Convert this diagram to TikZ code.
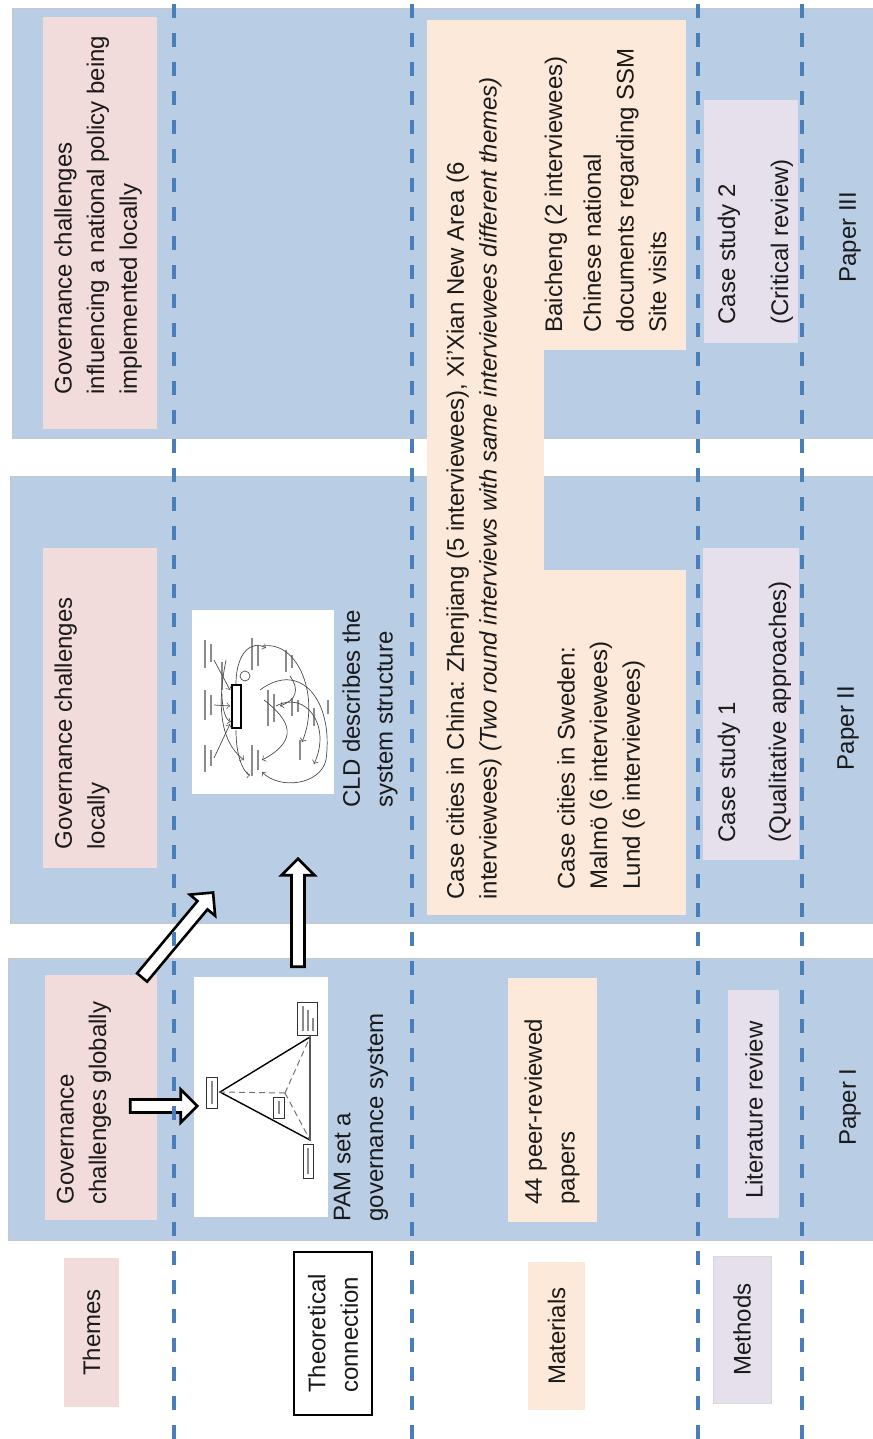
\documentclass[tikz,border=0pt]{standalone}
\usepackage{fontspec}
\setmainfont{Liberation Sans}
\usetikzlibrary{shapes.arrows,calc,fit}
\definecolor{panel}{HTML}{B9CDE5}
\definecolor{pinkbox}{HTML}{F2DCDB}
\definecolor{peach}{HTML}{FDE9D9}
\definecolor{lav}{HTML}{E5E0EC}
\definecolor{dashblue}{HTML}{4A7EBB}
\definecolor{txt}{HTML}{1A1A1A}
\newcommand\hollowarrow[3]{\path let \p1=($(#3)-(#2)$) in node[blockarr, minimum height={veclen(\x1,\y1)}, rotate={atan2(\y1,\x1)}] (#1) at ($(#2)!0.5!(#3)$) {};}
\begin{document}
\begin{tikzpicture}[x=0.5pt,y=-0.5pt,
  boxbase/.style={inner sep=0pt,outer sep=0pt},
  panelbox/.style={boxbase,fill=panel,draw=black!22,line width=0.5pt},
  themebox/.style={boxbase,fill=pinkbox},
  matbox/.style={boxbase,fill=peach},
  methbox/.style={boxbase,fill=lav},
  imgbox/.style={boxbase,fill=white},
  rtext/.style={rotate=90,anchor=west,align=left,font=\fontsize{12}{16.3}\selectfont,text=txt,inner sep=0pt},
  ctext/.style={rotate=90,anchor=center,align=left,font=\fontsize{12}{16.3}\selectfont,text=txt,inner sep=0pt},
  divider/.style={dashblue,line width=2pt,dash pattern=on 7pt off 7.5pt},
  blockarr/.style={single arrow,draw=black,fill=white,line width=1.3pt,inner sep=2.6pt,minimum width=0pt,single arrow head extend=5pt,single arrow head indent=0pt},
  mini/.style={black!70,line width=0.35pt},
  stub/.style={black!45,line width=1pt},
]
\useasboundingbox (0,0) rectangle (872,1439);

% ---------- panels ----------
\node[panelbox,fit={(12,9) (876,438)}] (p3) {};
\node[panelbox,fit={(10,476) (876,923)}] (p2) {};
\node[panelbox,fit={(8,958) (876,1240)}] (p1) {};

% ---------- themes ----------
\node[themebox,fit={(43,17) (157,429)}] (t3) {};
\node[themebox,fit={(43,548) (157,868)}] (t2) {};
\node[themebox,fit={(45,975) (157,1220)}] (t1) {};
\node[rtext] (t3txt) at (98,395) {Governance challenges\\influencing a national policy being\\implemented locally};
\node[rtext] (t2txt) at (82,850) {Governance challenges\\locally};
\node[rtext] (t1txt) at (84,1205) {Governance\\challenges globally};

% ---------- theoretical connection ----------
\node[imgbox,fit={(194,977) (328,1217)}] (pam) {};
\node[imgbox,fit={(192,610) (334,794)}] (cld) {};
\node[rtext] (pamtxt) at (361,1222) {PAM set a\\governance system};
\node[rtext] (cldtxt) at (370,808) {CLD describes the\\system structure};

% PAM mini triangle
\coordinate (pl) at (220,1092);
\coordinate (ptr) at (310,1037);
\coordinate (pbr) at (310,1140);
\coordinate (pc) at (285,1093);
\draw[black,line width=0.7pt] (pl) -- (ptr) -- (pbr) -- cycle;
\draw[black!55,line width=0.5pt,densely dashed] (pc) -- (pl) (pc) -- (ptr) (pc) -- (pbr);
\node[draw=black!80,line width=0.5pt,fill=white,boxbase,fit={(206,1077) (217,1108)}] (pamL) {};
\node[draw=black!80,line width=0.5pt,fill=white,boxbase,fit={(297,1002) (317,1035)}] (pamTR) {};
\node[draw=black!80,line width=0.5pt,fill=white,boxbase,fit={(303,1144) (313,1178)}] (pamBR) {};
\node[draw=black!80,line width=0.5pt,fill=white,boxbase,fit={(273,1097) (284,1118)}] (pamC) {};
\draw[stub] (211.5,1081) -- (211.5,1104);
\draw[stub] (303,1006) -- (303,1031) (308,1010) -- (308,1031) (313,1018) -- (313,1031);
\draw[stub] (308,1148) -- (308,1174);
\draw[stub] (278.5,1101) -- (278.5,1114);

% CLD mini diagram
\draw[stub] (205,640) -- (205,668) (211,644) -- (211,662);
\draw[stub] (205,690) -- (205,720) (211,695) -- (211,715);
\draw[stub] (205,745) -- (205,772) (211,750) -- (211,766);
\draw[stub] (222,662) -- (222,690);
\draw[stub] (252,638) -- (252,670) (258,645) -- (258,666);
\draw[stub] (252,745) -- (252,776) (258,750) -- (258,770);
\draw[stub] (268,690) -- (268,726) (274,694) -- (274,722);
\draw[stub] (286,650) -- (286,672) (292,655) -- (292,668);
\draw[stub] (292,698) -- (292,716) (298,700) -- (298,712);
\draw[stub] (300,740) -- (300,760);
\draw[stub] (314,708) -- (314,726);
\draw[stub] (328,700) -- (328,714);
\draw[black,line width=0.7pt] (232,685) rectangle (241,728);
\draw[mini] (245,676) circle (5);
\draw[mini,->] (236,684) .. controls (236,652) and (252,640) .. (266,648);
\draw[mini,->] (262,646) .. controls (300,640) and (320,700) .. (302,742);
\draw[mini,->] (276,706) .. controls (305,690) and (332,725) .. (314,764);
\draw[mini,->] (260,690) .. controls (300,660) and (334,700) .. (326,760) .. controls (320,785) and (280,790) .. (262,772);
\draw[mini,->] (264,700) .. controls (290,720) and (300,740) .. (262,760);
\draw[mini,->] (236,730) .. controls (236,765) and (248,775) .. (250,775);
\draw[mini,->] (222,694) .. controls (222,710) and (226,720) .. (231,722);
\draw[mini,->] (214,660) -- (230,690);
\draw[mini,->] (214,705) -- (230,706);
\draw[mini,->] (214,758) -- (230,724);
\draw[mini,->] (226,660) .. controls (218,700) and (218,740) .. (244,760);
\draw[mini,->] (290,676) .. controls (300,690) and (296,700) .. (280,706);

% ---------- materials ----------
\node[matbox,fit={(427,20) (544,915)}] (mchina) {};
\node[matbox,fit={(543,20) (686,350)}] (mbai) {};
\node[matbox,fit={(543,570) (686,915)}] (mswe) {};
\node[matbox,fit={(508,978) (597,1222)}] (m1) {};
\node[rtext] (chinatxt) at (474,900) {Case cities in China: Zhenjiang (5 interviewees), Xi'Xian New Area (6\\interviewees) \textit{(Two round interviews with same interviewees different themes)}};
\node[rtext] (baitxt) at (556,333) {Baicheng (2 interviewees)};
\node[rtext] (doctxt) at (625,333) {Chinese national\\documents regarding SSM\\Site visits};
\node[rtext] (swetxt) at (601,890) {Case cities in Sweden:\\Malmö (6 interviewees)\\Lund (6 interviewees)};
\node[rtext] (m1txt) at (552,1205) {44 peer-reviewed\\papers};

% ---------- methods ----------
\node[methbox,fit={(704,100) (798,343)}] (me3) {};
\node[methbox,fit={(703,548) (799,860)}] (me2) {};
\node[methbox,fit={(728,990) (779,1218)}] (me1) {};
\node[rtext] (me3a) at (729,325) {Case study 2};
\node[rtext] (me3b) at (782,325) {(Critical review)};
\node[rtext] (me2a) at (729,843) {Case study 1};
\node[rtext] (me2b) at (780,843) {(Qualitative approaches)};
\node[ctext] (me1a) at (754,1110) {Literature review};

% ---------- paper labels ----------
\node[ctext] (pap3) at (850,237) {Paper III};
\node[ctext] (pap2) at (848,728) {Paper II};
\node[ctext] (pap1) at (850,1107) {Paper I};

% ---------- legend ----------
\node[themebox,fit={(64,1258) (119,1407)}] (lgth) {};
\node[boxbase,fill=white,draw=black,line width=0.9pt,fit={(294,1252) (372,1415)}] (lgtc) {};
\node[matbox,fit={(528,1262) (585,1410)}] (lgma) {};
\node[methbox,draw=black!15,line width=0.4pt,fit={(713,1256) (771,1403)}] (lgme) {};
\node[ctext] at (lgth.center) (lgthtxt) {Themes};
\node[ctext] at (lgtc.center) (lgtctxt) {Theoretical\\connection};
\node[ctext] at (lgma.center) (lgmatxt) {Materials};
\node[ctext] at (lgme.center) (lgmetxt) {Methods};

% ---------- block arrows ----------
\coordinate (a1s) at (127,1106);
\coordinate (a1e) at (pam.west |- a1s);
\coordinate (a2s) at (140,980);
\coordinate (a2e) at (211,895);
\coordinate (a3s) at (298,970);
\coordinate (a3e) at (298,862);
\hollowarrow{arrA}{a1s}{a1e}
\hollowarrow{arrB}{a2s}{a2e}
\hollowarrow{arrC}{a3s}{a3e}

% ---------- dashed dividers ----------
\foreach \xx in {174,412,698,802}{
  \draw[divider] (\xx,4) -- (\xx,1439);
}
\end{tikzpicture}
\end{document}
